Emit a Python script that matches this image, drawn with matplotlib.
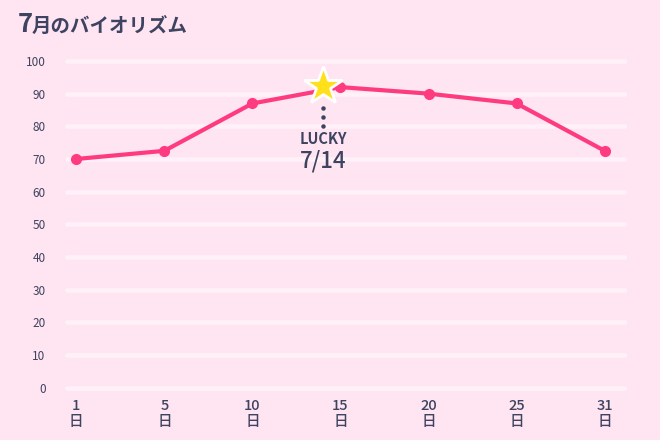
import numpy as np
import matplotlib
matplotlib.use('Agg')
import matplotlib.pyplot as plt

plt.rcParams['font.family'] = ['Noto Sans CJK JP', 'DejaVu Sans']

# データ
days = [1, 5, 10, 15, 20, 25, 31]
values = [70, 72.5, 87, 92, 90, 87, 72.5]
yticks = [0, 10, 20, 30, 40, 50, 60, 70, 80, 90, 100]
lucky_day = 14
lucky_value = 92.3

bg = '#FFE4F1'
pink = '#FF3B7F'
navy = '#3D4360'

fig = plt.figure(figsize=(6.6, 4.4), dpi=100, facecolor=bg)
ax = fig.add_axes([65/660, 1-391/440, (627-65)/660, (391-57.7)/440], facecolor=bg)

idx = np.arange(len(days))
ax.set_xlim(-0.128, 6.253)
ax.set_ylim(-1, 101)

# 横の罫線（うすい太線、端は丸く）
for t in yticks:
    ax.plot([-0.105, 6.23], [t, t], color='#FFF1F7', lw=3.3,
            solid_capstyle='round', zorder=1)

ax.plot(idx, values, color=pink, lw=3, marker='o', ms=7,
        solid_capstyle='round', zorder=3)

# LUCKY の星
sx = np.interp(lucky_day, days, idx)
ax.plot(sx, lucky_value, marker='*', ms=29, color='#FFE01B',
        mec='white', mew=2, zorder=4, clip_on=False)
ax.plot([sx]*3, [85.6, 82.9, 80.1], ls='none', marker='o', ms=2.2,
        color=navy, zorder=4)
ax.text(sx, 76.2, 'LUCKY', ha='center', va='center', fontsize=10.5,
        fontweight='bold', color=navy)
ax.text(sx, 69.5, '7/14', ha='center', va='center', fontsize=16,
        fontweight='medium', color=navy)

for s in ax.spines.values():
    s.set_visible(False)
ax.tick_params(length=0)
ax.set_yticks(yticks)
ax.set_yticklabels([str(t) for t in yticks], fontsize=8.5, color=navy)
ax.tick_params(axis='y', pad=14)
ax.set_xticks(idx)
ax.set_xticklabels(['%d\n日' % d for d in days], fontsize=10.5,
                   color=navy, linespacing=1.15, fontweight='medium')
ax.tick_params(axis='x', pad=6)

# タイトル
fig.text(18/660, 1-32/440, '7', fontsize=18.5, fontweight='bold',
         color=navy, va='baseline', ha='left')
fig.text(32/660, 1-32/440, '月のバイオリズム', fontsize=14,
         fontweight='bold', color=navy, va='baseline', ha='left')

fig.savefig('out.png', dpi=100, facecolor=bg)
